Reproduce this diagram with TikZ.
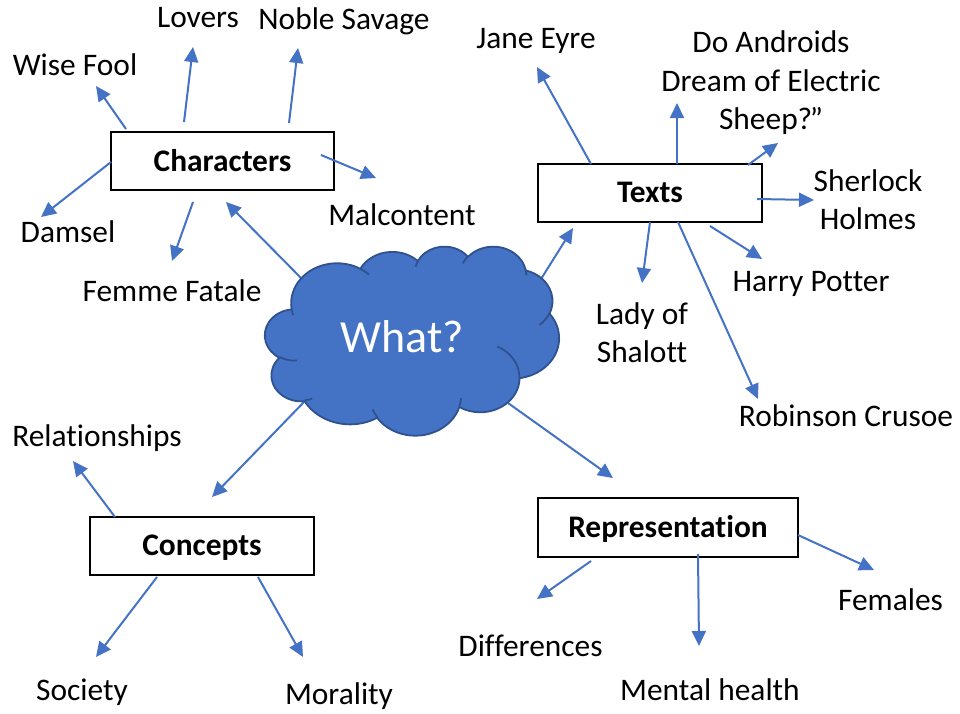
\documentclass[tikz,border=0pt]{standalone}
\usepackage{fontspec}
\setmainfont{Carlito}[Ligatures=NoCommon]
\usetikzlibrary{arrows.meta}
\definecolor{arrblue}{HTML}{4472C4}
\definecolor{cloudfill}{HTML}{4472C4}
\definecolor{cloudline}{HTML}{2F528F}
% convert an OOXML arcTo (visual angles) into parametric angles
\newcommand\cldarc[4]{%
  \pgfmathsetmacro\cldtA{atan2((#1)*sin(#3),(#2)*cos(#3))}%
  \pgfmathsetmacro\cldtB{atan2((#1)*sin((#3)+(#4)),(#2)*cos((#3)+(#4)))}%
  \pgfmathsetmacro\cldtD{\cldtB-\cldtA}%
  \pgfmathsetmacro\cldtD{\cldtD-360*round((\cldtD-(#4))/360)}%
  \xdef\cldS{\cldtA}\xdef\cldD{\cldtD}%
}
\begin{document}
\begin{tikzpicture}[x=1pt,y=-1pt,
  lbl/.style={font=\fontsize{31.4}{38.3}\selectfont, inner sep=0pt, anchor=base, align=center},
  topic/.style={draw=black, line width=2pt, inner sep=0pt, text height=20pt, text depth=0pt,
                font=\fontsize{31.4}{38.3}\selectfont\bfseries},
  conn/.style={draw=arrblue, line width=2pt, -{Triangle[length=15pt,width=14pt]}},
  cloudstroke/.style={draw=cloudline, line width=1.8pt, line join=round},
]
\useasboundingbox (0,0) rectangle (960,713);

% ---------- topic boxes ----------
\node[topic, minimum width=223.6pt, minimum height=58.6pt] (chars) at (222.5,161) {Characters};
\node[topic, minimum width=223.4pt, minimum height=58pt] (texts) at (650,192.7) {Texts};
\node[topic, minimum width=224pt, minimum height=58.3pt] (concepts) at (202,545.85) {Concepts};
\node[topic, minimum width=260.6pt, minimum height=58.4pt] (repr) at (668,527.5) {Representation};

% ---------- labels (multi-line nodes are placed by their last baseline) ----------
\node[lbl] (lovers) at (198,27) {Lovers};
\node[lbl] (noble) at (344,29.3) {Noble Savage};
\node[lbl] (wise) at (75,75) {Wise Fool};
\node[lbl] (damsel) at (68,242) {Damsel};
\node[lbl] (femme) at (172,301.7) {Femme Fatale};
\node[lbl] (malcontent) at (402,225) {Malcontent};
\node[lbl] (jane) at (536,48.3) {Jane Eyre};
\node[lbl] (androids) at (771,129.3) {Do Androids\\Dream of Electric\\Sheep?\kern-2.5pt”};
\node[lbl] (sherlock) at (868,229.3) {Sherlock\\Holmes};
\node[lbl] (harry) at (811,291.7) {Harry Potter};
\node[lbl] (lady) at (642,362.3) {Lady of\\Shalott};
\node[lbl] (robinson) at (846,426.7) {Robinson Crusoe};
\node[lbl] (relationships) at (97,446.7) {Relationships};
\node[lbl] (society) at (82,700) {Society};
\node[lbl] (morality) at (339,704) {Morality};
\node[lbl] (differences) at (530.5,656.7) {Differences};
\node[lbl] (mental) at (710,700) {Mental health};
\node[lbl] (females) at (890.5,610.7) {Females};

% ---------- connector end points ----------
\coordinate (wise-s) at (126,129);   \coordinate (wise-t) at (96,86);
\coordinate (lovers-s) at (184,122); \coordinate (lovers-t) at (193,47);
\coordinate (noble-s) at (289,123);  \coordinate (noble-t) at (298,48);
\coordinate (malc-s) at (321,155);   \coordinate (malc-t) at (376,178);
\coordinate (damsel-s) at (111,162); \coordinate (damsel-t) at (41,217);
\coordinate (femme-s) at (193,202);  \coordinate (femme-t) at (172,261);
\coordinate (cc-s) at (302,279);     \coordinate (cc-t) at (226,202);
\coordinate (jane-s) at (591,164);   \coordinate (jane-t) at (537,67);
\coordinate (andr-s) at (677,164);   \coordinate (andr-t) at (677,103);
\coordinate (sheep-s) at (748,165);  \coordinate (sheep-t) at (778,143);
\coordinate (sher-s) at (757,199);   \coordinate (sher-t) at (814,200);
\coordinate (harry-s) at (710,226);  \coordinate (harry-t) at (762,259);
\coordinate (lady-s) at (650,222);   \coordinate (lady-t) at (642,283);
\coordinate (rob-s) at (678,222);    \coordinate (rob-t) at (758,399);
\coordinate (ct-s) at (541,279);     \coordinate (ct-t) at (573,228);
\coordinate (cn-s) at (304,402);     \coordinate (cn-t) at (212,497);
\coordinate (rel-s) at (115,517);    \coordinate (rel-t) at (73,461);
\coordinate (soc-s) at (157,577);    \coordinate (soc-t) at (96,657);
\coordinate (mor-s) at (258,577);    \coordinate (mor-t) at (303,657);
\coordinate (cr-s) at (508,403);     \coordinate (cr-t) at (613,478);
\coordinate (diff-s) at (591,561);   \coordinate (diff-t) at (537,599);
\coordinate (ment-s) at (698,554);   \coordinate (ment-t) at (699,646);
\coordinate (fem-s) at (798,535);    \coordinate (fem-t) at (874,570);

% ---------- connectors ----------
\foreach \a in {wise,lovers,noble,malc,damsel,femme,cc,jane,andr,sheep,sher,harry,lady,rob,ct,cn,rel,soc,mor,cr,diff,ment,fem}
  \draw[conn] (\a-s) -- (\a-t);

% ---------- cloud ----------
\begin{scope}[shift={(265,246)}, x=0.68056pt, y=-0.4375pt]
\draw[cloudstroke, fill=cloudfill] (39,143.70)
  \pgfextra{\cldarc{67.53}{91.90}{-190.48748}{123.78053}} arc[start angle=\cldS, delta angle=\cldD, x radius=67.53, y radius=91.90]
  \pgfextra{\cldarc{53.33}{72.67}{-144.10238}{89.94523}} arc[start angle=\cldS, delta angle=\cldD, x radius=53.33, y radius=72.67]
  \pgfextra{\cldarc{43.65}{59.45}{-145.80792}{99.72302}} arc[start angle=\cldS, delta angle=\cldD, x radius=43.65, y radius=59.45]
  \pgfextra{\cldarc{48.57}{65.95}{-130.98607}{117.24173}} arc[start angle=\cldS, delta angle=\cldD, x radius=48.57, y radius=65.95]
  \pgfextra{\cldarc{53.33}{72.73}{-78.70888}{109.02692}} arc[start angle=\cldS, delta angle=\cldD, x radius=53.33, y radius=72.73]
  \pgfextra{\cldarc{67.75}{92.20}{-46.26725}{130.269}} arc[start angle=\cldS, delta angle=\cldD, x radius=67.75, y radius=92.20]
  \pgfextra{\cldarc{57.85}{78.67}{0.62502}{114.03333}} arc[start angle=\cldS, delta angle=\cldD, x radius=57.85, y radius=78.67]
  \pgfextra{\cldarc{67.52}{92.15}{22.4516}{115.17255}} arc[start angle=\cldS, delta angle=\cldD, x radius=67.52, y radius=92.15]
  \pgfextra{\cldarc{77.20}{105.43}{66.24263}{75.71102}} arc[start angle=\cldS, delta angle=\cldD, x radius=77.20, y radius=105.43]
  \pgfextra{\cldarc{43.60}{59.18}{-274.94208}{146.73557}} arc[start angle=\cldS, delta angle=\cldD, x radius=43.60, y radius=59.18]
  \pgfextra{\cldarc{43.45}{59.45}{-246.8285}{152.51885}} arc[start angle=\cldS, delta angle=\cldD, x radius=43.45, y radius=59.45]
  -- cycle;
\draw[cloudstroke]
  (46.93,261.77) \pgfextra{\cldarc{43.45}{59.45}{86.742}{26.4295}} arc[start angle=\cldS, delta angle=\cldD, x radius=43.45, y radius=59.45]
  (69.28,348.99) \pgfextra{\cldarc{43.60}{59.18}{73.61047}{11.44747}} arc[start angle=\cldS, delta angle=\cldD, x radius=43.60, y radius=59.18]
  (164.78,390.90) \pgfextra{\cldarc{67.52}{92.15}{137.62415}{14.0811}} arc[start angle=\cldS, delta angle=\cldD, x radius=67.52, y radius=92.15]
  (288.27,347.51) \pgfextra{\cldarc{67.52}{92.15}{6.45327}{15.99835}} arc[start angle=\cldS, delta angle=\cldD, x radius=67.52, y radius=92.15]
  (341.29,229.54) \pgfextra{\cldarc{57.85}{78.67}{-70.29235}{70.91737}} arc[start angle=\cldS, delta angle=\cldD, x radius=57.85, y radius=78.67]
  (417.98,153.54) \pgfextra{\cldarc{53.33}{72.73}{30.31803}{27.7515}} arc[start angle=\cldS, delta angle=\cldD, x radius=53.33, y radius=72.73]
  (383.24,54.26) \pgfextra{\cldarc{48.57}{65.95}{-13.74433}{14.8589}} arc[start angle=\cldS, delta angle=\cldD, x radius=48.57, y radius=65.95]
  (290.78,39.52) \pgfextra{\cldarc{48.57}{65.95}{-149.18145}{18.19537}} arc[start angle=\cldS, delta angle=\cldD, x radius=48.57, y radius=65.95]
  (221.41,47.20) \pgfextra{\cldarc{43.65}{59.45}{-163.49427}{17.68635}} arc[start angle=\cldS, delta angle=\cldD, x radius=43.65, y radius=59.45]
  (140.00,51.92) \pgfextra{\cldarc{67.53}{91.90}{-66.70695}{12.31935}} arc[start angle=\cldS, delta angle=\cldD, x radius=67.53, y radius=91.90]
  (41.27,157.89) \pgfextra{\cldarc{67.53}{91.90}{157.65435}{11.85817}} arc[start angle=\cldS, delta angle=\cldD, x radius=67.53, y radius=91.90];
\end{scope}
\node[font=\fontsize{46}{55}\selectfont, text=white, inner sep=0pt, anchor=base] (what) at (402.5,352.7) {What?};
\end{tikzpicture}
\end{document}
